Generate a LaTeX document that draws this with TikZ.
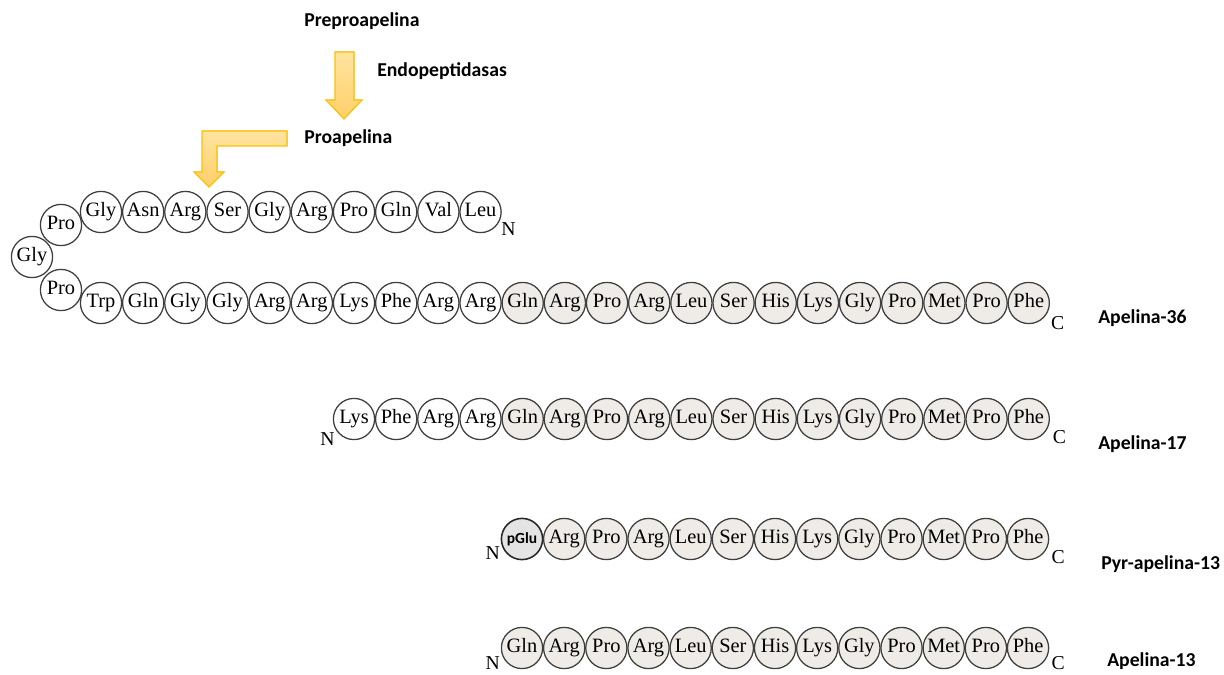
\documentclass[tikz,border=0pt]{standalone}
\usepackage{fontspec}
\setmainfont{Liberation Serif}
\newfontfamily\labelfont{Carlito}
\usetikzlibrary{positioning}

\definecolor{ringcol}{RGB}{62,62,62}
\definecolor{resgray}{RGB}{239,236,232}
\definecolor{glugray}{RGB}{228,228,228}
\definecolor{arrowtop}{RGB}{255,228,160}
\definecolor{arrowbot}{RGB}{255,207,105}
\definecolor{arrowline}{RGB}{255,192,0}

\newcommand{\apcore}{Gln,Arg,Pro,Arg,Leu,Ser,His,Lys,Gly,Pro,Met,Pro,Phe}

\tikzset{
  res/.style={circle,draw=ringcol,line width=0.9pt,minimum size=1.03cm,inner sep=0pt,
    text height=0.9em,text depth=0.24em,font=\fontsize{14.5}{14.5}\selectfont},
  core/.style={res,fill=resgray},
  endlabel/.style={font=\fontsize{14}{14}\selectfont,inner sep=0pt},
  pepname/.style={anchor=west,inner sep=0pt,font=\labelfont\bfseries\fontsize{14}{16}\selectfont},
  blockarrow/.style={draw=arrowline,line width=0.8pt,top color=arrowtop,bottom color=arrowbot}
}

\begin{document}
\begin{tikzpicture}[x=0.025cm, y=-0.025cm, node distance=1.054cm]
\useasboundingbox (0,0) rectangle (1224,675);

% precursor names
\node[pepname] (prepro) at (304,21) {Preproapelina};
\node[pepname] (endo) at (377,71) {Endopeptidasas};
\node[pepname] (pro) at (304,138) {Proapelina};

% processing arrows
\filldraw[blockarrow] (335,52) -- (354,52) -- (354,100) -- (362,100) -- (344,119)
  -- (326,100) -- (335,100) -- cycle;
\filldraw[blockarrow] (287,131) -- (202,131) -- (202,172) -- (194,172) -- (209,187)
  -- (224,172) -- (217,172) -- (217,146) -- (287,146) -- cycle;

% proapelina, upper strand
\node[res] (u1) at (101,212) {Gly};
\foreach \r [count=\i from 2, remember=\i as \j (initially 1)] in {Asn,Arg,Ser,Gly,Arg,Pro,Gln,Val,Leu}
  \node[res, right of=u\j] (u\i) {\r};
\node[endlabel, xshift=0.70cm, yshift=-0.43cm] (nu) at (u10) {N};

% turn
\node[res] (t1) at (61,225) {Pro};
\node[res] (t2) at (32,257) {Gly};
\node[res] (t3) at (61,290) {Pro};

% apelina-36
\node[res] (a1) at (101,303) {Trp};
\foreach \r [count=\i from 2, remember=\i as \j (initially 1)] in {Gln,Gly,Gly,Arg,Arg,Lys,Phe,Arg,Arg}
  \node[res, right of=a\j] (a\i) {\r};
\foreach \r [count=\i from 11, remember=\i as \j (initially 10)] in \apcore
  \node[core, right of=a\j] (a\i) {\r};
\node[endlabel, xshift=0.72cm, yshift=-0.5cm] (ca) at (a23) {C};
\node[pepname] (ap36) at (1098,318) {Apelina-36};

% apelina-17
\node[res] (b1) at (354,419) {Lys};
\foreach \r [count=\i from 2, remember=\i as \j (initially 1)] in {Phe,Arg,Arg}
  \node[res, right of=b\j] (b\i) {\r};
\foreach \r [count=\i from 5, remember=\i as \j (initially 4)] in \apcore
  \node[core, right of=b\j] (b\i) {\r};
\node[endlabel, xshift=-0.66cm, yshift=-0.5cm] (nb) at (b1) {N};
\node[endlabel, xshift=0.77cm, yshift=-0.45cm] (cb) at (b17) {C};
\node[pepname] (ap17) at (1098,444) {Apelina-17};

% pyr-apelina-13
\node[res, fill=glugray, draw=black!85, line width=1.1pt, text height=, text depth=,
  font=\labelfont\bfseries\fontsize{11}{11}\selectfont] (p1) at (522,539) {pGlu};
\foreach \r [count=\i from 2, remember=\i as \j (initially 1)] in {Arg,Pro,Arg,Leu,Ser,His,Lys,Gly,Pro,Met,Pro,Phe}
  \node[core, right of=p\j] (p\i) {\r};
\node[endlabel, xshift=-0.73cm, yshift=-0.36cm] (np) at (p1) {N};
\node[endlabel, xshift=0.75cm, yshift=-0.45cm] (cp) at (p13) {C};
\node[pepname] (pyr13) at (1101,564) {Pyr-apelina-13};

% apelina-13
\node[core] (q1) at (522,648) {Gln};
\foreach \r [count=\i from 2, remember=\i as \j (initially 1)] in {Arg,Pro,Arg,Leu,Ser,His,Lys,Gly,Pro,Met,Pro,Phe}
  \node[core, right of=q\j] (q\i) {\r};
\node[endlabel, xshift=-0.73cm, yshift=-0.38cm] (nq) at (q1) {N};
\node[endlabel, xshift=0.75cm, yshift=-0.38cm] (cq) at (q13) {C};
\node[pepname] (ap13) at (1107,661) {Apelina-13};

\end{tikzpicture}
\end{document}
